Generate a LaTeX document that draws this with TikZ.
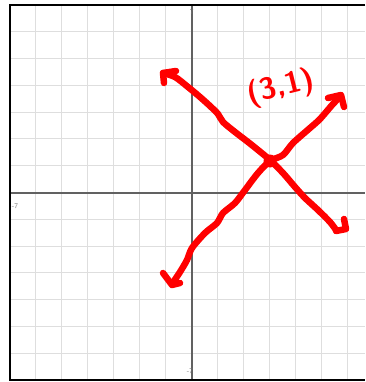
\documentclass[tikz,border=0pt]{standalone}
\begin{document}
\begin{tikzpicture}[x=1pt,y=-1pt,
  gridline/.style={draw=black!13, line width=1pt},
  axisline/.style={draw=black!62, line width=2pt},
  frameline/.style={draw=black, line width=1.5pt},
  pen/.style={draw=red, line width=6.5pt, line cap=round, line join=round},
  ticklabel/.style={text=black!55, font=\fontsize{7}{8}\selectfont\sffamily, inner sep=0pt},
  handlabel/.style={text=red, font=\fontsize{30}{32}\selectfont\sffamily\bfseries, inner sep=0pt}]
\useasboundingbox (0,0) rectangle (365,382);
\fill[white] (0,0) rectangle (365,382);
% grid
\foreach \k in {-6,...,6} \draw[gridline] ({191.7+26*\k},5) -- ({191.7+26*\k},380);
\foreach \k in {-6,...,6} \draw[gridline] (10,{192.5+26.8*\k}) -- (365,{192.5+26.8*\k});
% axes
\coordinate (xl) at (10,192.5);
\coordinate (xr) at (365,192.5);
\coordinate (yt) at (191.7,5);
\coordinate (yb) at (191.7,380);
\draw[axisline] (xl) -- (xr);
\draw[axisline] (yt) -- (yb);
% frame
\draw[frameline] (365,5) -- (10,5) -- (10,380) -- (365,380);
% tick labels
\node[ticklabel] (ltop) at (191.7,12) {7};
\node[ticklabel] (lleft) at (15,206) {-7};
\node[ticklabel] (lbot) at (190,371) {-7};
% stroke A (upper left to lower right)
\draw[pen] plot[smooth, tension=0.5] coordinates {(163,73) (175,77) (188,87) (200,97) (210,106) (218,114) (223,122) (235,132) (248,142) (258,150) (270,160) (283,173) (295,187) (305,198) (318,210) (330,222) (336,230)};
\draw[pen] (176,71) -- (163,73) -- (164,83);
\draw[pen] (336,231) -- (346,229) -- (344,219);
% stroke B (lower left to upper right)
\draw[pen] plot[smooth, tension=0.5] coordinates {(172,284) (180,272) (187,260) (192,248) (205,233) (217,223) (223,213) (235,203) (245,190) (258,173) (270,161) (283,155) (293,143) (310,128) (320,119) (333,104) (341,96)};
\draw[pen] (328,98) -- (341,95) -- (344,107);
\draw[pen] (163,273) -- (172,285) -- (180,283);
% crossing point
\fill[red] (270,161) circle (6.5);
% label
\node[handlabel, rotate=14] (pt) at (281,88) {(3,1)};
\end{tikzpicture}
\end{document}
